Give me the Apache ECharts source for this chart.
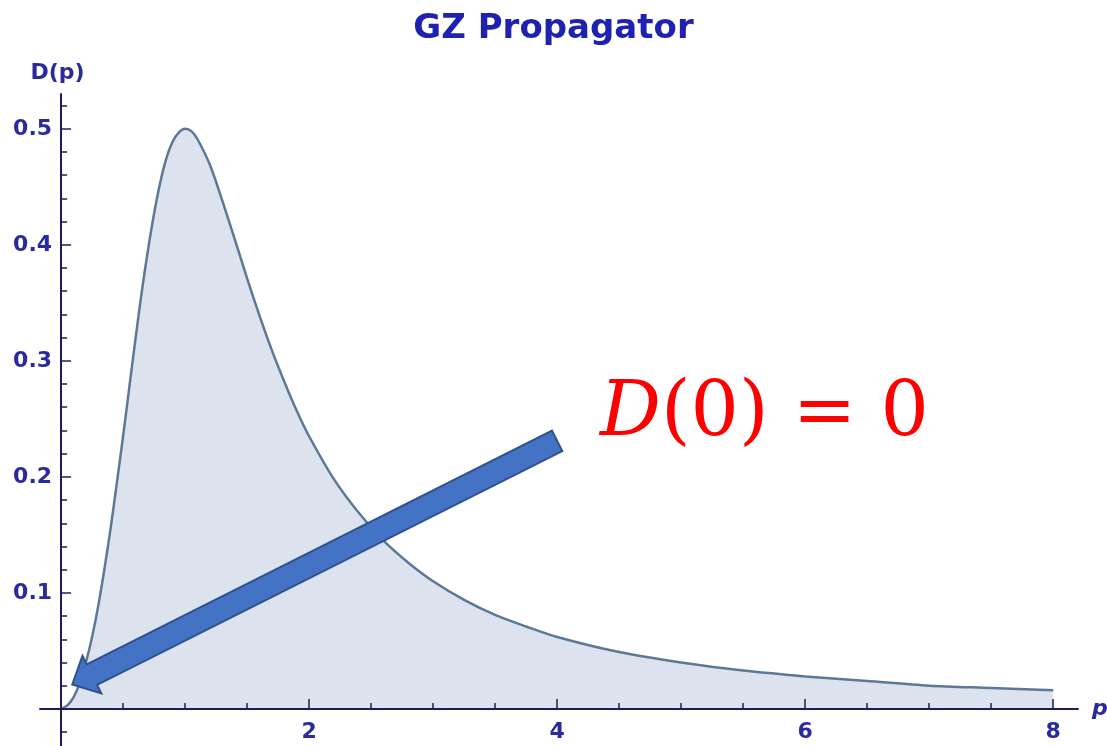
<!DOCTYPE html>
<html>
<head>
<meta charset="utf-8">
<title>GZ Propagator</title>
<script src="https://cdn.jsdelivr.net/npm/echarts@6/dist/echarts.min.js"></script>
<style>
  html, body { margin: 0; padding: 0; background: #fff; }
  #chart { width: 1107px; height: 746px; }
</style>
</head>
<body>
<div id="chart"></div>
<script>
// values
const pValues = [0, 0.05, 0.1, 0.15, 0.2, 0.25, 0.3, 0.35, 0.4, 0.45, 0.5, 0.55, 0.6, 0.65, 0.7, 0.75, 0.8, 0.85, 0.9, 0.95,
  1.0, 1.05, 1.1, 1.2, 1.3, 1.4, 1.5, 1.6, 1.7, 1.8, 1.9, 2.0, 2.2, 2.4, 2.6, 2.8, 3.0, 3.25, 3.5, 3.75, 4.0,
  4.5, 5.0, 5.5, 6.0, 6.5, 7.0, 7.5, 8.0]
const dValues = [0, 0.003, 0.010, 0.022, 0.040, 0.062, 0.089, 0.121, 0.156, 0.195, 0.235, 0.277, 0.319, 0.359, 0.395, 0.427, 0.454, 0.475, 0.489, 0.497,
  0.500, 0.498, 0.491, 0.469, 0.438, 0.405, 0.371, 0.339, 0.309, 0.282, 0.257, 0.235, 0.198, 0.169, 0.145, 0.126, 0.110, 0.094, 0.081, 0.071, 0.062,
  0.049, 0.040, 0.033, 0.028, 0.024, 0.020, 0.018, 0.016]

const xTickValues = [0.5, 1, 1.5, 2, 2.5, 3, 3.5, 4, 4.5, 5, 5.5, 6, 6.5, 7, 7.5, 8]
const xLabelValues = [2, 4, 6, 8]
const yTickValues = [-0.02, 0.02, 0.04, 0.06, 0.08, 0.1, 0.12, 0.14, 0.16, 0.18, 0.2, 0.22, 0.24, 0.26, 0.28,
  0.3, 0.32, 0.34, 0.36, 0.38, 0.4, 0.42, 0.44, 0.46, 0.48, 0.5, 0.52]
const yLabelValues = [0.1, 0.2, 0.3, 0.4, 0.5]

// arrow annotation, in data units: tip near the origin, tail under the label
const arrowTip = [0.09, 0.021]
const arrowTail = [4.0, 0.231]

const xRange = [-0.17, 8.2]
const yRange = [-0.032, 0.53]

const axisColor = '#1d1d5e'
const labelColor = '#2a2a9e'
const labelFont = { color: labelColor, fontFamily: 'DejaVu Sans', fontWeight: 'bold', fontSize: 22 }

const chart = echarts.init(document.getElementById('chart'))

chart.setOption({
  animation: false,
  title: {
    text: 'GZ Propagator',
    left: 'center',
    top: 12,
    padding: 0,
    textStyle: { color: '#1f22b0', fontFamily: 'DejaVu Sans', fontWeight: 'bold', fontSize: 34 }
  },
  grid: { left: 40, right: 29, top: 94, bottom: 0, containLabel: false, outerBoundsMode: 'none' },
  xAxis: [{
    // the axis line through y = 0, with the small ticks
    type: 'value',
    min: xRange[0],
    max: xRange[1],
    z: 5,
    name: 'p',
    nameLocation: 'end',
    nameGap: 14,
    nameTextStyle: { color: labelColor, fontFamily: 'DejaVu Sans', fontStyle: 'italic', fontWeight: 'bold', fontSize: 22, verticalAlign: 'middle' },
    axisLine: { onZero: true, lineStyle: { color: axisColor, width: 2 } },
    axisTick: { inside: true, length: 6, customValues: xTickValues, lineStyle: { color: axisColor, width: 1.5 } },
    axisLabel: { show: false },
    splitLine: { show: false }
  }, {
    // labels and longer ticks, moved up onto the zero line below
    type: 'value',
    min: xRange[0],
    max: xRange[1],
    z: 5,
    position: 'bottom',
    axisLine: { show: false, onZero: false },
    axisTick: { inside: true, length: 10, customValues: xLabelValues, lineStyle: { color: axisColor, width: 1.5 } },
    axisLabel: Object.assign({ customValues: xLabelValues, margin: 12 }, labelFont),
    splitLine: { show: false }
  }],
  yAxis: [{
    type: 'value',
    min: yRange[0],
    max: yRange[1],
    z: 5,
    name: 'D(p)',
    nameLocation: 'end',
    nameGap: 10,
    nameTextStyle: Object.assign({ align: 'center', padding: [0, 7, 0, 0] }, labelFont),
    axisLine: { onZero: true, lineStyle: { color: axisColor, width: 2 } },
    axisTick: { inside: true, length: 6, customValues: yTickValues, lineStyle: { color: axisColor, width: 1.5 } },
    axisLabel: { show: false },
    splitLine: { show: false }
  }, {
    type: 'value',
    min: yRange[0],
    max: yRange[1],
    z: 5,
    position: 'left',
    axisLine: { show: false, onZero: false },
    axisTick: { inside: true, length: 10, customValues: yLabelValues, lineStyle: { color: axisColor, width: 1.5 } },
    axisLabel: Object.assign({ customValues: yLabelValues, margin: 9, formatter: v => v.toFixed(1) }, labelFont),
    splitLine: { show: false }
  }],
  series: [{
    type: 'line',
    xAxisIndex: 0,
    yAxisIndex: 0,
    data: pValues.map((p, i) => [p, dValues[i]]),
    showSymbol: false,
    smooth: 0.3,
    lineStyle: { color: '#5d7896', width: 2.5 },
    areaStyle: { color: '#dde3ee', opacity: 1 },
    z: 1
  }]
})

// where the zero lines sit, so the label axes can be shifted onto them
const rect = chart.getModel().getComponent('grid', 0).coordinateSystem.getRect()
const origin = chart.convertToPixel({ xAxisIndex: 0, yAxisIndex: 0 }, [0, 0])

function arrowPoints() {
  const a = chart.convertToPixel({ xAxisIndex: 0, yAxisIndex: 0 }, arrowTip)
  const b = chart.convertToPixel({ xAxisIndex: 0, yAxisIndex: 0 }, arrowTail)
  const dx = b[0] - a[0]
  const dy = b[1] - a[1]
  const len = Math.hypot(dx, dy)
  const ux = dx / len, uy = dy / len
  const nx = -uy, ny = ux
  const headLen = 22, headHalf = 21, shaftHalf = 11.5
  const hx = a[0] + ux * headLen
  const hy = a[1] + uy * headLen
  return [
    a,
    [hx + nx * headHalf, hy + ny * headHalf],
    [hx + nx * shaftHalf, hy + ny * shaftHalf],
    [b[0] + nx * shaftHalf, b[1] + ny * shaftHalf],
    [b[0] - nx * shaftHalf, b[1] - ny * shaftHalf],
    [hx - nx * shaftHalf, hy - ny * shaftHalf],
    [hx - nx * headHalf, hy - ny * headHalf]
  ]
}

chart.setOption({
  xAxis: [{}, { offset: origin[1] - (rect.y + rect.height) }],
  yAxis: [{}, { offset: rect.x - origin[0] }],
  graphic: [{
    type: 'polygon',
    z: 100,
    shape: { points: arrowPoints() },
    style: { fill: '#4472c4', stroke: '#2f528f', lineWidth: 2 }
  }, {
    type: 'text',
    z: 100,
    x: 600,
    y: 415,
    style: {
      text: '{i|D}(0) = 0',
      fill: '#ff0000',
      fontFamily: 'DejaVu Serif',
      fontSize: 76,
      verticalAlign: 'middle',
      rich: {
        i: { fontStyle: 'italic', fontFamily: 'DejaVu Serif', fontSize: 76, fill: '#ff0000' }
      }
    }
  }]
})
</script>
</body>
</html>
